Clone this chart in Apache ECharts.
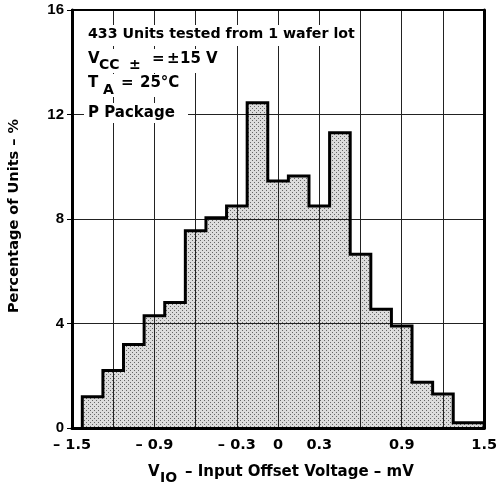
<!DOCTYPE html>
<html><head><meta charset="utf-8">
<script src="https://cdn.jsdelivr.net/npm/echarts@6/dist/echarts.min.js"></script>
<style>html,body{margin:0;padding:0;background:#fff}#c{width:500px;height:488px}</style>
</head><body><div id="c"></div>
<script>
// bin edges (mV) and percentage of units per bin
const binEdges = [-1.425,-1.275,-1.125,-0.975,-0.825,-0.675,-0.525,-0.375,-0.225,-0.075,0.075,0.225,0.375,0.525,0.675,0.825,0.975,1.125,1.275,1.5];
const percentages = [1.2,2.2,3.2,4.3,4.8,7.55,8.05,8.5,12.45,9.45,9.65,8.5,11.3,6.65,4.55,3.9,1.75,1.3,0.2];
const xTickLabels = ['– 1.5','','– 0.9','','– 0.3','0','0.3','','0.9','','1.5'];
const yTickLabels = ['0','4','8','12','16'];

const FONT = '"Liberation Sans", Arial, sans-serif';
const WIDE = '"DejaVu Sans", sans-serif';

function stipple(){
  const c = document.createElement('canvas'); c.width = 4; c.height = 4;
  const g = c.getContext('2d');
  g.fillStyle = '#dcdcdc'; g.fillRect(0,0,4,4);
  g.fillStyle = '#666'; g.fillRect(0,0,1,1); g.fillRect(2,2,1,1);
  return c;
}
const pattern = {image: stipple(), repeat: 'repeat'};

const bins = percentages.map((p,i)=>[binEdges[i], binEdges[i+1], p]);
const outline = [[binEdges[0],0]].concat(percentages.map((p,i)=>[binEdges[i],p]), [[binEdges[binEdges.length-1],0]]);

const chart = echarts.init(document.getElementById('c'), null, {renderer:'canvas'});

function txt(text, x, y, size){
  return {type:'text', x:x, y:y, z:100,
    style:{text:text, font:'bold '+size+'px '+WIDE, fill:'#000', align:'left', verticalAlign:'middle'}};
}
function box(x, y, w, h){
  return {type:'rect', z:99, shape:{x:x, y:y, width:w, height:h}, style:{fill:'#fff'}};
}

const option = {
  animation:false,
  backgroundColor:'#fff',
  grid:{left:72, right:12, top:10, bottom:60},
  xAxis:[{
    type:'value', min:-1.5, max:1.5, interval:0.3, z:5,
    axisLine:{show:true, onZero:false, lineStyle:{color:'#000', width:3}},
    axisTick:{show:false},
    splitLine:{show:true, lineStyle:{color:'#222', width:1}},
    axisLabel:{margin:10, color:'#000', fontFamily:WIDE, fontWeight:'bold', fontSize:14.5,
      showMinLabel:true, showMaxLabel:true,
      formatter:(v,i)=>xTickLabels[i]}
  },{
    type:'value', position:'top', min:-1.5, max:1.5, interval:0.3, z:5,
    axisLine:{show:true, onZero:false, lineStyle:{color:'#000', width:2}},
    axisTick:{show:false}, axisLabel:{show:false}, splitLine:{show:false}
  }],
  yAxis:[{
    type:'value', min:0, max:16, interval:4, z:5,
    axisLine:{show:true, onZero:false, lineStyle:{color:'#000', width:3}},
    axisTick:{show:true, inside:false, length:5, lineStyle:{color:'#000', width:1}},
    splitLine:{show:true, lineStyle:{color:'#222', width:1}},
    axisLabel:{margin:8, color:'#000', fontFamily:FONT, fontWeight:'bold', fontSize:15,
      formatter:(v,i)=>yTickLabels[i]}
  },{
    type:'value', position:'right', min:0, max:16, interval:4, z:5,
    axisLine:{show:true, onZero:false, lineStyle:{color:'#000', width:3}},
    axisTick:{show:false}, axisLabel:{show:false}, splitLine:{show:false}
  }],
  series:[{
    type:'custom', z:1,
    data:bins,
    encode:{x:[0,1], y:2},
    renderItem:function(params, api){
      const p0 = api.coord([api.value(0), 0]);
      const p1 = api.coord([api.value(1), api.value(2)]);
      return {type:'rect', shape:{x:p0[0], y:p1[1], width:p1[0]-p0[0], height:p0[1]-p1[1]},
        style:{fill:pattern, stroke:null}};
    }
  },{
    type:'line', z:8, step:'end', data:outline, showSymbol:false, symbol:'none',
    lineStyle:{color:'#000', width:3, join:'miter', cap:'square'}
  }],
  graphic:[
    box(84, 25, 275, 21),
    box(84, 49, 138, 24),
    box(84, 74, 100, 23),
    box(84, 103, 104, 20),
    txt('433 Units tested from 1 wafer lot', 88, 34, 14.2),
    txt('V', 88, 59, 15),
    txt('CC', 99, 65, 14),
    txt('±', 129, 65, 14),
    txt('=', 152, 59, 15),
    txt('±', 167, 59, 15),
    txt('15 V', 180, 59, 15),
    txt('T', 88, 83, 15),
    txt('A', 103, 90, 14),
    txt('=', 121, 83, 15),
    txt('25°C', 140, 83, 15),
    txt('P Package', 88, 113, 15),
    txt('V', 148, 472, 15),
    txt('IO', 160, 478, 14),
    txt('– Input Offset Voltage – mV', 185, 472, 15),
    {type:'text', x:14, y:216, rotation:Math.PI/2, z:100,
      style:{text:'Percentage of Units – %', font:'bold 14.5px '+WIDE, fill:'#000', align:'center', verticalAlign:'middle'}}
  ]
};
chart.setOption(option);
</script></body></html>
